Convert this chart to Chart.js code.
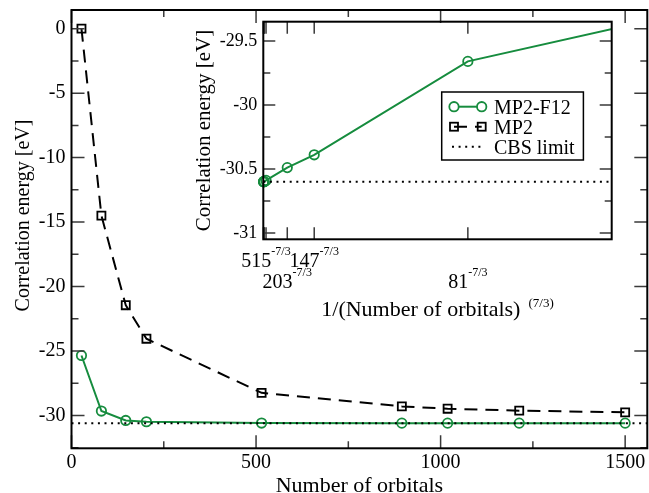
<!DOCTYPE html>
<html>
<head>
<meta charset="utf-8">
<script src="https://cdn.jsdelivr.net/npm/chart.js@4"></script>
<style>
  html, body { margin: 0; padding: 0; background: #fff; }
  #wrap { position: relative; width: 649px; height: 493px; overflow: hidden; background: #fff; }
  #main { position: absolute; left: 0; top: 0; }
  #inset { position: absolute; left: 180px; top: 0; }
</style>
</head>
<body>
<div id="wrap">
  <canvas id="main" width="649" height="493"></canvas>
  <canvas id="inset" width="440" height="330"></canvas>
</div>
<script>
// ---- data ----
const N_ORBITALS = [27, 81, 147, 203, 515, 895, 1019, 1213, 1500];
const E_MP2      = [0.0, -14.5, -21.45, -24.05, -28.25, -29.3, -29.48, -29.63, -29.76];
const E_MP2_F12  = [-25.35, -29.66, -30.39, -30.49, -30.59, -30.60, -30.60, -30.60, -30.60];
const CBS_LIMIT  = -30.60;

const MAIN_X_TICKS  = [0, 500, 1000, 1500];
const MAIN_Y_TICKS  = [0, -5, -10, -15, -20, -25, -30];
const INSET_Y_TICKS = [-29.5, -30, -30.5, -31];
const INSET_X_LABELLED = [515, 203, 147, 81];   // orbitals whose N^(-7/3) gets a label

const SERIES_NAMES = ['MP2-F12', 'MP2', 'CBS limit'];

// ---- appearance ----
const FONT = "'Liberation Serif', 'Times New Roman', serif";
Chart.defaults.font.family = FONT;
Chart.defaults.color = '#000';
const GREEN = 'rgb(22,140,62)';
const MP2_DASH = [13, 8];
const CBS_DOT = [2, 4.6];
const EXPONENT = 7 / 3;

const MAIN_X_RANGE = [0, 1560];
const MAIN_Y_RANGE = [-32.55, 1.45];
const INSET_X_RANGE = [0, 6e-5];
const INSET_Y_RANGE = [-31.05, -29.35];

const invPow = n => Math.pow(n, -EXPONENT);
const pairs = (xs, ys) => xs.map((x, i) => ({ x, y: ys[i] }));

// minor ticks halfway between majors, kept inside the axis range
function minorTicks(majors, range) {
  const step = Math.abs(majors[1] - majors[0]) / 2;
  const out = [];
  const k0 = Math.ceil(range[0] / step - 1e-9), k1 = Math.floor(range[1] / step + 1e-9);
  for (let k = k0; k <= k1; k++) if (Math.abs(k % 2) === 1) out.push(k * step);
  return out;
}

// inward ticks on all four sides plus the black frame
const framePlugin = {
  id: 'frame',
  afterDatasetsDraw(chart, args, o) {
    const { ctx, chartArea: a, scales: { x, y } } = chart;
    ctx.save();
    ctx.strokeStyle = '#3a3a3a';
    ctx.lineWidth = 1.5;
    ctx.setLineDash([]);
    const xt = (vals, len) => vals.forEach(v => {
      const p = x.getPixelForValue(v);
      ctx.beginPath();
      ctx.moveTo(p, a.bottom); ctx.lineTo(p, a.bottom - len);
      ctx.moveTo(p, a.top); ctx.lineTo(p, a.top + len);
      ctx.stroke();
    });
    const yt = (vals, len) => vals.forEach(v => {
      const p = y.getPixelForValue(v);
      ctx.beginPath();
      ctx.moveTo(a.left, p); ctx.lineTo(a.left + len, p);
      ctx.moveTo(a.right, p); ctx.lineTo(a.right - len, p);
      ctx.stroke();
    });
    xt(o.xMajor, o.major); xt(o.xMinor || [], o.minor);
    yt(o.yMajor, o.major); yt(o.yMinor || [], o.minor);
    ctx.strokeStyle = '#000';
    ctx.lineWidth = 2;
    ctx.strokeRect(a.left, a.top, a.right - a.left, a.bottom - a.top);
    ctx.restore();
  }
};

function textWithSup(ctx, base, sup, cx, baseline, baseSize, supSize, rise, gap) {
  ctx.font = `${baseSize}px ${FONT}`;
  const wb = ctx.measureText(base).width;
  ctx.font = `${supSize}px ${FONT}`;
  const ws = ctx.measureText(sup).width;
  const x0 = cx - (wb + gap + ws) / 2;
  ctx.textAlign = 'left';
  ctx.textBaseline = 'alphabetic';
  ctx.font = `${baseSize}px ${FONT}`;
  ctx.fillText(base, x0, baseline);
  ctx.font = `${supSize}px ${FONT}`;
  ctx.fillText(sup, x0 + wb + gap, baseline - rise);
}

const fixedBox = (w, h) => s => {
  if (w !== null) s.width = w;
  if (h !== null) s.height = h;
  s.paddingTop = 0; s.paddingBottom = 0; s.paddingLeft = 0; s.paddingRight = 0;
};

// ---- main chart ----
const mainTitles = {
  id: 'mainTitles',
  afterDraw(chart) {
    const { ctx, chartArea: a } = chart;
    ctx.save();
    ctx.fillStyle = '#000';
    ctx.textAlign = 'center';
    ctx.textBaseline = 'alphabetic';
    ctx.font = `22px ${FONT}`;
    ctx.fillText('Number of orbitals', (a.left + a.right) / 2, a.bottom + 43.2);
    ctx.font = `20px ${FONT}`;
    ctx.translate(a.left - 43, a.top + 205.5);
    ctx.rotate(-Math.PI / 2);
    ctx.fillText('Correlation energy [eV]', 0, 0);
    ctx.restore();
  }
};

new Chart(document.getElementById('main'), {
  type: 'line',
  data: {
    datasets: [
      {
        label: SERIES_NAMES[2],
        data: pairs(MAIN_X_RANGE, [CBS_LIMIT, CBS_LIMIT]),
        borderColor: '#000', borderWidth: 2, borderDash: CBS_DOT,
        pointRadius: 0, order: 0
      },
      {
        label: SERIES_NAMES[0],
        data: pairs(N_ORBITALS, E_MP2_F12),
        borderColor: GREEN, borderWidth: 2,
        pointStyle: 'circle', pointRadius: 4.7, pointBorderWidth: 1.8,
        pointBorderColor: GREEN, pointBackgroundColor: 'rgba(0,0,0,0)', order: 1
      },
      {
        label: SERIES_NAMES[1],
        data: pairs(N_ORBITALS, E_MP2),
        borderColor: '#000', borderWidth: 2, borderDash: MP2_DASH,
        pointStyle: 'rect', pointRadius: 5.7, pointBorderWidth: 1.8,
        pointBorderColor: '#000', pointBackgroundColor: 'rgba(0,0,0,0)', order: 2
      }
    ]
  },
  options: {
    responsive: false, devicePixelRatio: 1, animation: false,
    layout: { padding: { top: 10, right: 1.7, left: 0, bottom: 0 }, autoPadding: false },
    plugins: {
      legend: { display: false }, tooltip: { enabled: false },
      frame: {
        xMajor: MAIN_X_TICKS, xMinor: minorTicks(MAIN_X_TICKS, MAIN_X_RANGE),
        yMajor: MAIN_Y_TICKS, yMinor: minorTicks(MAIN_Y_TICKS, MAIN_Y_RANGE),
        major: 13, minor: 7
      }
    },
    scales: {
      x: {
        type: 'linear', min: MAIN_X_RANGE[0], max: MAIN_X_RANGE[1],
        grid: { display: false, drawTicks: false }, border: { display: false },
        afterBuildTicks: s => { s.ticks = MAIN_X_TICKS.map(v => ({ value: v })); },
        afterFit: fixedBox(null, 44.7),
        ticks: { autoSkip: false, maxRotation: 0, padding: 2, color: '#000',
                 font: { family: FONT, size: 20 }, callback: v => String(v) }
      },
      y: {
        type: 'linear', min: MAIN_Y_RANGE[0], max: MAIN_Y_RANGE[1],
        grid: { display: false, drawTicks: false }, border: { display: false },
        afterBuildTicks: s => { s.ticks = MAIN_Y_TICKS.map(v => ({ value: v })); },
        afterFit: fixedBox(71.5, null),
        ticks: { autoSkip: false, padding: 6, color: '#000',
                 font: { family: FONT, size: 20 }, callback: v => String(v) }
      }
    }
  },
  plugins: [framePlugin, mainTitles]
});

// ---- inset: energy against N^(-7/3) ----
const insetDecor = {
  id: 'insetDecor',
  afterDraw(chart) {
    const { ctx, chartArea: a, scales: { x } } = chart;
    ctx.save();
    ctx.fillStyle = '#000';

    // staggered tick labels N^(-7/3)
    const labelled = INSET_X_LABELLED.slice().sort((p, q) => invPow(p) - invPow(q));
    labelled.forEach((n, i) => {
      const px = x.getPixelForValue(invPow(n));
      const base = a.bottom + (i % 2 === 0 ? 28 : 49);
      textWithSup(ctx, String(n), '-7/3', px, base, 20, 12, 12, 0);
    });

    // axis titles
    textWithSup(ctx, '1/(Number of orbitals)', '(7/3)', (a.left + a.right) / 2,
                a.bottom + 76.7, 22, 13, 9.5, 8);
    ctx.save();
    ctx.font = `21px ${FONT}`;
    ctx.textAlign = 'center';
    ctx.textBaseline = 'alphabetic';
    ctx.translate(a.left - 53.3, (a.top + a.bottom) / 2);
    ctx.rotate(-Math.PI / 2);
    ctx.fillText('Correlation energy [eV]', 0, 0);
    ctx.restore();

    // legend box
    const bx = a.left + 178.4, by = a.top + 70.3, bw = 141.7, bh = 68;
    ctx.fillStyle = '#fff';
    ctx.fillRect(bx, by, bw, bh);
    ctx.strokeStyle = '#000';
    ctx.lineWidth = 1.5;
    ctx.strokeRect(bx, by, bw, bh);

    const s0 = bx + 12.3, s1 = bx + 40, tx = bx + 52.3;
    const rows = [by + 14.7, by + 34.7, by + 54.7];
    // MP2-F12
    ctx.strokeStyle = GREEN; ctx.lineWidth = 2; ctx.setLineDash([]);
    ctx.beginPath(); ctx.moveTo(s0, rows[0]); ctx.lineTo(s1, rows[0]); ctx.stroke();
    ctx.lineWidth = 1.8;
    [s0, s1].forEach(cx => {
      ctx.fillStyle = '#fff';
      ctx.beginPath(); ctx.arc(cx, rows[0], 4.7, 0, 2 * Math.PI); ctx.fill(); ctx.stroke();
    });
    // MP2
    ctx.strokeStyle = '#000'; ctx.lineWidth = 2; ctx.setLineDash(MP2_DASH);
    ctx.beginPath(); ctx.moveTo(s0, rows[1]); ctx.lineTo(s1, rows[1]); ctx.stroke();
    ctx.setLineDash([]); ctx.lineWidth = 1.8;
    [s0, s1].forEach(cx => { ctx.strokeRect(cx - 4, rows[1] - 4, 8, 8); });
    // CBS limit
    ctx.lineWidth = 2; ctx.setLineDash(CBS_DOT);
    ctx.beginPath(); ctx.moveTo(s0 - 2, rows[2]); ctx.lineTo(s1 + 2, rows[2]); ctx.stroke();
    ctx.setLineDash([]);

    ctx.fillStyle = '#000';
    ctx.font = `20px ${FONT}`;
    ctx.textAlign = 'left';
    ctx.textBaseline = 'alphabetic';
    SERIES_NAMES.forEach((name, i) => ctx.fillText(name, tx, rows[i] + 7));
    ctx.restore();
  }
};

const insetXMajors = N_ORBITALS.map(invPow).filter(v => v >= INSET_X_RANGE[0] && v <= INSET_X_RANGE[1]);

new Chart(document.getElementById('inset'), {
  type: 'line',
  data: {
    datasets: [
      {
        label: SERIES_NAMES[2],
        data: pairs(INSET_X_RANGE, [CBS_LIMIT, CBS_LIMIT]),
        borderColor: '#000', borderWidth: 2, borderDash: CBS_DOT,
        pointRadius: 0, order: 0
      },
      {
        label: SERIES_NAMES[0],
        data: pairs(N_ORBITALS.map(invPow), E_MP2_F12),
        borderColor: GREEN, borderWidth: 2,
        pointStyle: 'circle', pointRadius: 4.7, pointBorderWidth: 1.8,
        pointBorderColor: GREEN, pointBackgroundColor: 'rgba(0,0,0,0)',
        clip: { left: 8, top: 0, right: 0, bottom: 8 }, order: 1
      }
    ]
  },
  options: {
    responsive: false, devicePixelRatio: 1, animation: false,
    layout: { padding: { top: 21.7, right: 8.3, left: 0, bottom: 0 }, autoPadding: false },
    plugins: {
      legend: { display: false }, tooltip: { enabled: false },
      frame: {
        xMajor: insetXMajors, xMinor: [],
        yMajor: INSET_Y_TICKS, yMinor: minorTicks(INSET_Y_TICKS, INSET_Y_RANGE),
        major: 12, minor: 7
      }
    },
    scales: {
      x: {
        type: 'linear', min: INSET_X_RANGE[0], max: INSET_X_RANGE[1],
        grid: { display: false, drawTicks: false }, border: { display: false },
        afterFit: fixedBox(null, 90.7),
        ticks: { display: false }
      },
      y: {
        type: 'linear', min: INSET_Y_RANGE[0], max: INSET_Y_RANGE[1],
        grid: { display: false, drawTicks: false }, border: { display: false },
        afterBuildTicks: s => { s.ticks = INSET_Y_TICKS.map(v => ({ value: v })); },
        afterFit: fixedBox(83.3, null),
        ticks: { autoSkip: false, padding: 6, color: '#000',
                 font: { family: FONT, size: 18 }, callback: v => String(v) }
      }
    }
  },
  plugins: [framePlugin, insetDecor]
});
</script>
</body>
</html>
